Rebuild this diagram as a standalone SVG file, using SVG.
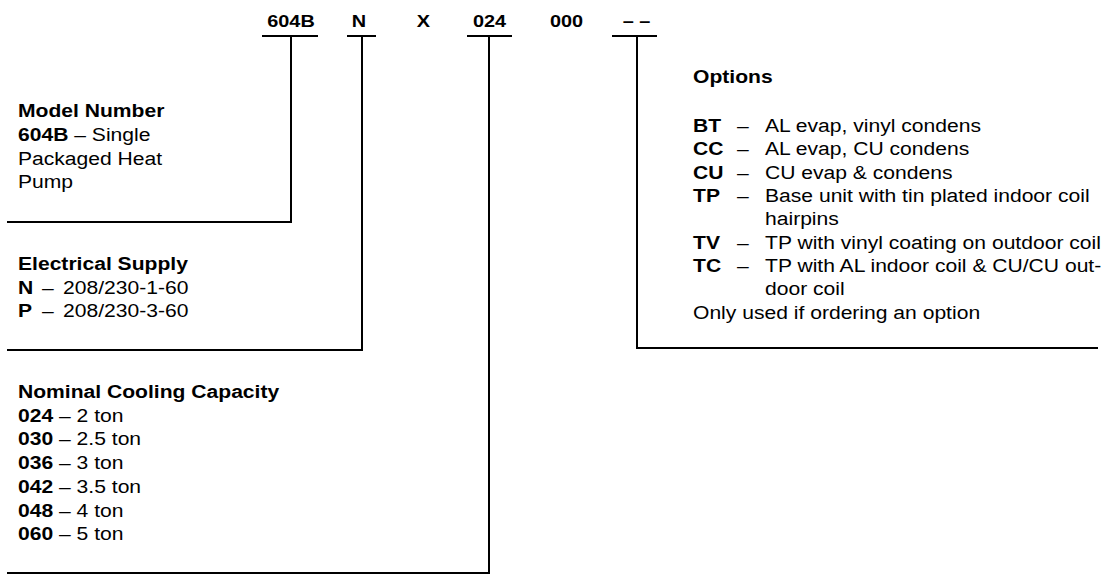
<svg xmlns="http://www.w3.org/2000/svg" width="1109" height="574" viewBox="0 0 1109 574">
<style>
text{font-family:"Liberation Sans",Arial,sans-serif;font-size:19px;fill:#000}
.b{font-weight:bold}
.h{font-size:17px;font-weight:bold;text-anchor:middle}
.ln{stroke:#000;stroke-width:2;fill:none}
</style>
<rect width="1109" height="574" fill="#fff"/>
<g id="header">
<text class="h" transform="translate(291,26.5) scale(1.17,1)">604B</text>
<text class="h" transform="translate(359,26.5) scale(1.17,1)">N</text>
<text class="h" transform="translate(423.5,26.5) scale(1.17,1)">X</text>
<text class="h" transform="translate(489.5,26.5) scale(1.17,1)">024</text>
<text class="h" transform="translate(566.5,26.5) scale(1.17,1)">000</text>
<text class="h" transform="translate(636.5,26.5) scale(1.17,1)">– –</text>
</g>
<g id="connectors" class="ln">
<path d="M262,36H318M347,36H376M467,36H512M612,36H657"/>
<path d="M291,36V222H7"/>
<path d="M362,36V350H7"/>
<path d="M489,36V573H7"/>
<path d="M637,36V348H1098"/>
</g>
<g id="model-number">
<text class="b" transform="translate(18,117) scale(1.11,1)">Model Number</text>
<text transform="translate(18,140.5) scale(1.11,1)"><tspan class="b">604B</tspan> – Single</text>
<text transform="translate(18,164.5) scale(1.11,1)">Packaged Heat</text>
<text transform="translate(18,188) scale(1.11,1)">Pump</text>
</g>
<g id="electrical-supply">
<text class="b" transform="translate(18,270) scale(1.11,1)">Electrical Supply</text>
<text class="b" transform="translate(18,293.5) scale(1.11,1)">N</text>
<text transform="translate(42,293.5) scale(1.11,1)">–</text>
<text transform="translate(63,293.5) scale(1.11,1)">208/230-1-60</text>
<text class="b" transform="translate(18,317) scale(1.11,1)">P</text>
<text transform="translate(42,317) scale(1.11,1)">–</text>
<text transform="translate(63,317) scale(1.11,1)">208/230-3-60</text>
</g>
<g id="nominal-cooling-capacity">
<text class="b" transform="translate(18,398) scale(1.11,1)">Nominal Cooling Capacity</text>
<text transform="translate(18,421.5) scale(1.11,1)"><tspan class="b">024</tspan> – 2 ton</text>
<text transform="translate(18,445.3) scale(1.11,1)"><tspan class="b">030</tspan> – 2.5 ton</text>
<text transform="translate(18,469) scale(1.11,1)"><tspan class="b">036</tspan> – 3 ton</text>
<text transform="translate(18,492.8) scale(1.11,1)"><tspan class="b">042</tspan> – 3.5 ton</text>
<text transform="translate(18,516.6) scale(1.11,1)"><tspan class="b">048</tspan> – 4 ton</text>
<text transform="translate(18,540.4) scale(1.11,1)"><tspan class="b">060</tspan> – 5 ton</text>
</g>
<g id="options">
<text class="b" transform="translate(693,83) scale(1.11,1)">Options</text>
<text class="b" transform="translate(693,132) scale(1.11,1)">BT</text>
<text transform="translate(737,132) scale(1.11,1)">–</text>
<text transform="translate(765,132) scale(1.11,1)">AL evap, vinyl condens</text>
<text class="b" transform="translate(693,155) scale(1.11,1)">CC</text>
<text transform="translate(737,155) scale(1.11,1)">–</text>
<text transform="translate(765,155) scale(1.11,1)">AL evap, CU condens</text>
<text class="b" transform="translate(693,178.5) scale(1.11,1)">CU</text>
<text transform="translate(737,178.5) scale(1.11,1)">–</text>
<text transform="translate(765,178.5) scale(1.11,1)">CU evap &amp; condens</text>
<text class="b" transform="translate(693,202) scale(1.11,1)">TP</text>
<text transform="translate(737,202) scale(1.11,1)">–</text>
<text transform="translate(765,202) scale(1.11,1)">Base unit with tin plated indoor coil</text>
<text transform="translate(765,225) scale(1.11,1)">hairpins</text>
<text class="b" transform="translate(693,248.5) scale(1.11,1)">TV</text>
<text transform="translate(737,248.5) scale(1.11,1)">–</text>
<text transform="translate(765,248.5) scale(1.11,1)">TP with vinyl coating on outdoor coil</text>
<text class="b" transform="translate(693,272) scale(1.11,1)">TC</text>
<text transform="translate(737,272) scale(1.11,1)">–</text>
<text transform="translate(765,272) scale(1.11,1)">TP with AL indoor coil &amp; CU/CU out-</text>
<text transform="translate(765,295) scale(1.11,1)">door coil</text>
<text transform="translate(693,318.5) scale(1.11,1)">Only used if ordering an option</text>
</g>
</svg>
